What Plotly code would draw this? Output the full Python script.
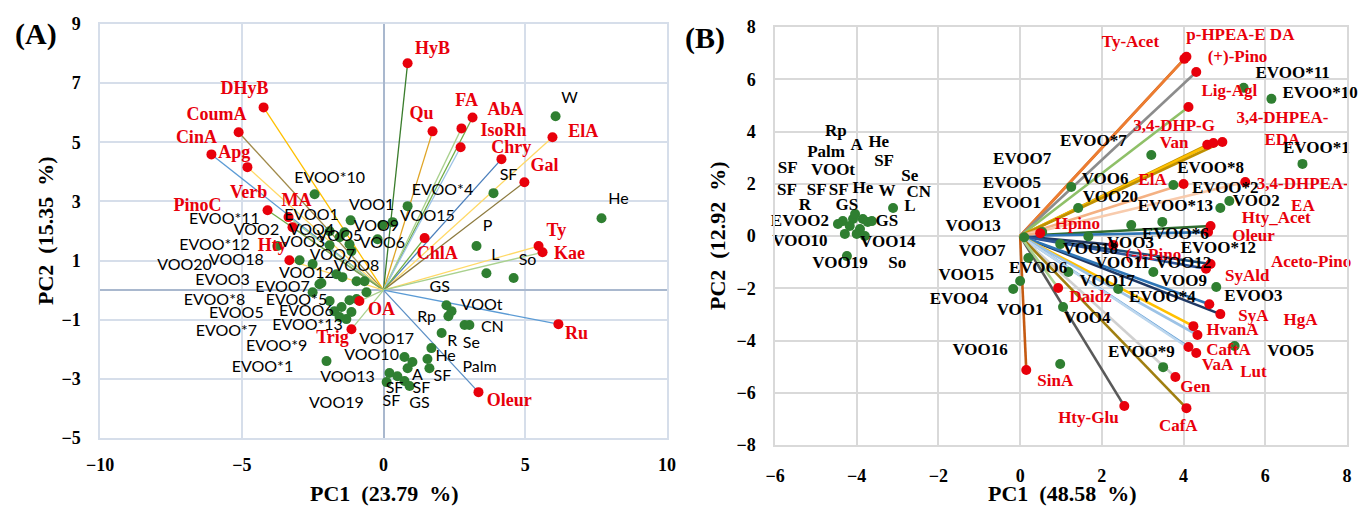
import plotly.graph_objects as go

# ================= Panel A data =================
a_load_names = ["DHyB", "CoumA", "CinA", "Apg", "Verb", "MA", "PinoC", "Hty", "HyB", "Qu", "FA", "AbA",
                "IsoRh", "Chry", "ElA", "Gal", "ChlA", "Ty", "Kae", "Ru", "Oleur", "OA", "Trig"]
a_load_x = [-4.23, -5.11, -6.07, -4.80, -4.09, -3.35, -3.21, -3.32, 0.85, 1.73, 3.14, 2.75,
            2.72, 4.16, 5.96, 4.97, 1.45, 5.47, 5.61, 6.17, 3.35, -0.85, -1.13]
a_load_y = [6.18, 5.34, 4.59, 4.16, 2.70, 2.47, 2.13, 1.01, 7.67, 5.37, 5.84, 5.47,
            4.83, 4.43, 5.17, 3.65, 1.76, 1.49, 1.28, -1.15, -3.45, -0.37, -1.32]
a_load_lab_x = [-4.90, -5.89, -6.60, -5.26, -4.76, -3.07, -6.56, -3.92, 1.73, 1.34, 2.93, 4.30,
                4.23, 4.51, 7.05, 5.68, 1.90, 6.10, 6.56, 6.81, 4.44, -0.07, -1.80]
a_load_lab_y = [6.79, 5.91, 5.14, 4.63, 3.28, 3.01, 2.84, 1.49, 8.14, 5.95, 6.39, 6.08,
                5.37, 4.80, 5.34, 4.19, 1.22, 1.99, 1.22, -1.49, -3.78, -0.68, -1.62]

a_smp_x = [-2.43, -1.16, 0.85, 0.32, -0.04, -0.21, -1.90, -1.55, -3.74, -1.38, -1.20, -1.90, -1.13,
           -2.96, -2.50, -1.66, -0.60, -1.45, -2.19, -2.50, -1.20, -0.95, -1.90, -1.48, -1.73, -1.13,
           -1.31, -1.55, -2.01, -0.95, -0.67, -2.26,
           2.22, 2.40, 2.29, 2.86, 3.03, 2.05, 1.69, 1.55, 1.62, 0.74, 1.02, 0.85, 0.21, 0.49, 0.11,
           0.74, 0.92,
           6.07, 3.88, 7.69, 3.28, 3.63, 4.59]
a_smp_y = [3.24, 2.36, 2.84, 2.30, 2.20, 1.72, 1.99, 1.79, 1.49, 1.96, 1.55, 1.52, 1.32,
           1.01, 0.88, 0.54, -0.07, 0.44, 0.24, -0.07, -0.34, -0.30, -0.37, -0.57, -0.71, -0.74,
           -0.98, -0.91, -2.40, 0.30, 0.30, 0.20,
           -0.51, -0.71, -0.88, -1.18, -1.18, -1.45, -1.96, -2.33, -2.64, -2.26, -2.43, -2.64, -2.80,
           -2.91, -3.11, -3.07, -3.24,
           5.88, 3.28, 2.43, 1.49, 0.57, 0.41]

a_smp_lab = ["EVOO*10", "VOO1", "EVOO*4", "VOO15", "VOO9", "VOO6", "EVOO1", "VOO2", "EVOO*12", "VOO4",
             "VOO5", "VOO3", "VOO7", "VOO18", "VOO20", "VOO12", "VOO8", "EVOO*11", "EVOO3", "EVOO7",
             "EVOO*5", "EVOO*8", "EVOO6", "EVOO5", "EVOO*7", "VOO17", "EVOO*13", "EVOO*9", "EVOO*1",
             "VOO10", "VOO13", "VOO19",
             "GS", "VOOt", "Rp", "CN", "R", "Se", "He", "Palm", "A", "SF", "SF", "SF", "SF", "GS",
             "W", "SF", "He", "P", "L", "So"]
a_smp_lab_x = [-1.90, -0.42, 2.08, 1.55, -0.25, -0.04, -2.54, -4.48, -5.96, -2.54,
               -1.55, -2.86, -1.80, -5.19, -7.02, -2.72, -0.95, -5.61, -5.68, -3.56,
               -3.07, -5.96, -2.72, -5.19, -5.54, 0.11, -2.68, -3.77, -4.27,
               -0.42, -1.27, -1.66,
               1.98, 3.46, 1.52, 3.84, 2.43, 3.10, 2.19, 3.39, 1.20, 2.08, 0.39, 1.34, 0.28, 1.27,
               6.56, 4.41, 8.29, 3.67, 3.95, 5.08]
a_smp_lab_y = [3.75, 2.84, 3.34, 2.47, 2.13, 1.55, 2.50, 1.99, 1.49, 1.99,
               1.79, 1.59, 1.15, 0.98, 0.81, 0.54, 0.78, 2.36, 0.30, 0.07,
               -0.37, -0.37, -0.74, -0.81, -1.42, -1.69, -1.22, -1.93, -2.64,
               -2.23, -2.97, -3.85,
               0.07, -0.54, -0.95, -1.28, -1.76, -1.82, -2.26, -2.64, -2.91, -2.94, -3.34, -3.34, -3.78, -3.85,
               6.45, 3.85, 3.04, 2.13, 1.15, 0.98]

a_x_ticks = [-10, -5, 0, 5, 10]
a_y_ticks = [-5, -3, -1, 1, 3, 5, 7, 9]

# ================= Panel B data =================
b_load_names = ["Ty-Acet", "p-HPEA-EDA", "(+)-Pino", "Lig-Agl", "3,4-DHP-G", "Van", "3,4-DHPEA-EDA",
                "ElA", "3,4-DHPEA-EA", "Hty_Acet", "Oleur", "Hpino", "(-)-Pino", "Aceto-Pino", "SyAld",
                "SyA", "HgA", "HvanA", "Lut", "CaftA", "VaA", "Gen", "CafA", "Hty-Glu", "SinA", "Daidz"]
b_load_text = ["Ty-Acet", "p-HPEA-E DA", "(+)-Pino", "Lig-Agl", "3,4-DHP-G", "Van", "3,4-DHPEA-<br>EDA",
               "ElA", "3,4-DHPEA-<br>EA", "Hty_Acet", "Oleur", "Hpino", "(-)-Pino", "Aceto-Pino", "SyAld",
               "SyA", "HgA", "HvanA", "Lut", "CaftA", "VaA", "Gen", "CafA", "Hty-Glu", "SinA", "Daidz"]
b_load_x = [4.02, 4.07, 4.31, 4.12, 4.58, 4.73, 4.95, 4.00, 5.51, 4.66, 4.60, 0.49, 2.28, 4.66, 4.55,
            4.90, 4.63, 4.24, 4.34, 4.12, 4.31, 3.80, 4.07, 2.55, 0.15, 0.93]
b_load_y = [6.78, 6.86, 6.28, 4.94, 3.49, 3.56, 3.60, 1.99, 2.07, 0.38, 0.15, 0.11, -0.34, -1.07, -1.25,
            -2.99, -2.61, -3.45, -3.79, -4.25, -4.48, -5.40, -6.59, -6.51, -5.13, -1.99]
b_load_lab_x = [2.70, 5.39, 5.32, 5.12, 3.77, 3.77, 6.42, 3.24, 6.92, 6.27, 5.71, 1.40, 3.26, 7.12, 5.56,
                5.71, 6.86, 5.20, 5.71, 5.10, 4.83, 4.29, 3.87, 1.67, 0.86, 1.72]
b_load_lab_y = [7.39, 7.66, 6.82, 5.52, 4.18, 3.52, 4.06, 2.11, 1.53, 0.65, -0.04, 0.42, -0.77, -1.03, -1.57,
                -3.10, -3.26, -3.64, -5.25, -4.41, -4.98, -5.79, -7.32, -7.01, -5.56, -2.38]

b_smp_x = [5.47, 6.15, 6.91, 3.21, 3.75, 5.12, 4.90, 3.48, 2.72, 1.25, 1.42, 1.67, 0.54, 0.10, 0.98,
           0.20, 1.18, 3.26, 2.40, 4.80, 1.05, 0.00, -0.17, 0.98, 3.50, 5.25,
           -4.34, -4.09, -3.85, -4.29, -3.92, -3.73, -4.17, -3.11, -4.24, -4.46, -4.00, -3.63, -4.04, -3.80]
b_smp_y = [5.67, 5.25, 2.76, 3.10, 1.95, 1.34, 1.07, 0.54, 0.42, 1.88, 1.07, -0.02, 0.15, -0.05, -0.31,
           -0.84, -1.38, -1.38, -2.03, -1.95, -2.72, -1.72, -2.03, -4.90, -5.02, -4.21,
           0.57, 0.65, 0.65, 0.08, 0.27, 0.54, 0.38, 1.07, -0.77, 0.46, 0.08, 0.57, 0.84, 0.00]

b_smp_lab = ["Rp", "A", "He", "Palm", "SF", "VOOt", "SF", "Se", "SF", "SF", "SF", "He", "W", "CN", "R",
             "GS", "L", "EVOO2", "GS", "VOO10", "VOO14", "VOO19", "So",
             "EVOO7", "EVOO5", "EVOO1", "VOO13", "VOO7", "VOO15", "EVOO4", "EVOO6", "VOO1", "VOO16",
             "VOO4", "VOO17", "VOO11", "VOO12", "VOO9", "EVOO*4", "EVOO*9", "VOO5", "EVOO3", "EVOO*12",
             "EVOO*6", "VOO3", "VOO18", "VOO6", "VOO20", "EVOO*13", "EVOO*2", "VOO2", "EVOO*8", "EVOO*7",
             "EVOO*11", "EVOO*10", "EVOO*1"]
b_smp_lab_x = [-4.51, -4.00, -3.46, -4.75, -5.69, -4.58, -3.33, -2.70, -5.71, -4.98, -4.44, -3.85, -3.26,
               -2.48, -5.27, -4.24, -2.70, -5.39, -3.26, -5.39, -3.24, -4.41, -3.01,
               0.05, -0.20, -0.20, -1.15, -0.93, -1.32, -1.50, 0.44, 0.00, -0.98,
               1.64, 2.13, 2.50, 4.00, 4.00, 3.48, 2.97, 6.62, 5.71, 4.85,
               3.80, 2.70, 1.72, 2.08, 2.21, 3.80, 5.02, 5.78, 4.66, 1.79,
               6.67, 7.34, 7.25]
b_smp_lab_y = [3.98, 3.45, 3.56, 3.18, 2.57, 2.49, 2.84, 2.26, 1.72, 1.72, 1.72, 1.80, 1.69,
               1.65, 1.15, 1.15, 1.11, 0.54, 0.54, -0.23, -0.27, -1.07, -1.07,
               2.91, 1.99, 1.23, 0.34, -0.61, -1.53, -2.45, -1.26, -2.87, -4.41,
               -3.18, -1.76, -1.07, -1.07, -1.76, -2.38, -4.48, -4.44, -2.34, -0.50,
               0.04, -0.31, -0.54, 2.15, 1.46, 1.11, 1.80, 1.30, 2.57, 3.60,
               6.21, 5.44, 3.33]

b_x_ticks = [-6, -4, -2, 0, 2, 4, 6, 8]
b_y_ticks = [-8, -6, -4, -2, 0, 2, 4, 6, 8]

# ================= styles =================
a_line_colors = ["#FFC000", "#A08A4A", "#5B9BD5", "#FFD966", "#70AD47", "#A9D18E", "#7FA05A", "#FFD966",
                 "#3A7D2C", "#E0A526", "#70AD47", "#A9D18E", "#9DC3E6", "#4A7EBB", "#FFD966", "#8C7A3E",
                 "#70AD47", "#FFD966", "#A9D18E", "#5B9BD5", "#5B8FC5", "#A9D18E", "#A9D18E"]
b_line_colors = ["#C55A11", "#ED7D31", "#8C8C8C", "#8FC068", "#BF9000", "#FFC000", "#BF9000",
                 "#F4B183", "#F8CBAD", "#2F6B2F", "#2E75B6", "#F4B183", "#203864", "#1F4E79", "#2F5597",
                 "#1F3864", "#2E75B6", "#FFC000", "#9DC3E6", "#5B9BD5", "#BDD7EE", "#D0D0D0", "#A07F10",
                 "#595959", "#C55A11", "#A9D18E"]

RED = "#E8000B"
GREEN = "#2F7F31"
SERIF = "Liberation Serif"

# page has an 8px body margin: figure is drawn from (8, 8)
OFF = 8
FW, FH = 1359, 500


def px(x):
    return (x - OFF) / FW


def py(y):
    return 1 - (y - OFF) / FH


fig = go.Figure()

# ---- Panel A ----
for i in range(len(a_load_x)):
    fig.add_trace(go.Scatter(x=[0, a_load_x[i]], y=[0, a_load_y[i]], mode="lines",
                             line=dict(color=a_line_colors[i], width=1.3),
                             xaxis="x", yaxis="y", showlegend=False, hoverinfo="skip"))
fig.add_trace(go.Scatter(x=a_smp_x, y=a_smp_y, mode="markers",
                         marker=dict(color=GREEN, size=10), xaxis="x", yaxis="y", showlegend=False))
fig.add_trace(go.Scatter(x=a_load_x, y=a_load_y, mode="markers", text=a_load_names,
                         marker=dict(color=RED, size=10), xaxis="x", yaxis="y", showlegend=False))
fig.add_trace(go.Scatter(x=a_load_lab_x, y=a_load_lab_y, mode="text", text=a_load_names,
                         textposition="middle center", cliponaxis=False,
                         textfont=dict(family=SERIF, size=18, color=RED, weight="bold"),
                         xaxis="x", yaxis="y", showlegend=False, hoverinfo="skip"))
fig.add_trace(go.Scatter(x=a_smp_lab_x, y=a_smp_lab_y, mode="text", text=a_smp_lab,
                         textposition="middle center", cliponaxis=False,
                         textfont=dict(family="Lato", size=16, color="black"),
                         xaxis="x", yaxis="y", showlegend=False, hoverinfo="skip"))

# ---- Panel B ----
for i in range(len(b_load_x)):
    fig.add_trace(go.Scatter(x=[0, b_load_x[i]], y=[0, b_load_y[i]], mode="lines",
                             line=dict(color=b_line_colors[i], width=2.6),
                             xaxis="x2", yaxis="y2", showlegend=False, hoverinfo="skip"))
fig.add_trace(go.Scatter(x=b_smp_x, y=b_smp_y, mode="markers",
                         marker=dict(color=GREEN, size=10), xaxis="x2", yaxis="y2", showlegend=False))
fig.add_trace(go.Scatter(x=b_load_x, y=b_load_y, mode="markers", text=b_load_names,
                         marker=dict(color=RED, size=10), xaxis="x2", yaxis="y2", showlegend=False))
fig.add_trace(go.Scatter(x=b_load_lab_x, y=b_load_lab_y, mode="text", text=b_load_text,
                         textposition="middle center", cliponaxis=False,
                         textfont=dict(family=SERIF, size=17, color=RED, weight="bold"),
                         xaxis="x2", yaxis="y2", showlegend=False, hoverinfo="skip"))
fig.add_trace(go.Scatter(x=b_smp_lab_x, y=b_smp_lab_y, mode="text", text=b_smp_lab,
                         textposition="middle center", cliponaxis=False,
                         textfont=dict(family=SERIF, size=17, color="black", weight="bold"),
                         xaxis="x2", yaxis="y2", showlegend=False, hoverinfo="skip"))

tickfont = dict(family=SERIF, size=18, color="black", weight="bold")
A_GRID = "#D6DEEA"
B_GRID = "#D9D9D9"

fig.update_layout(
    width=FW, height=FH,
    margin=dict(l=0, r=0, t=0, b=0, autoexpand=False),
    paper_bgcolor="white", plot_bgcolor="white",
    xaxis=dict(domain=[px(100), px(667)], range=[-10, 10], tickvals=a_x_ticks,
               showgrid=True, gridcolor=A_GRID, gridwidth=1.5,
               zeroline=True, zerolinecolor="#A9B8CE", zerolinewidth=1.5,
               showline=True, linecolor=A_GRID, linewidth=1.5, mirror=True, automargin=False,
               tickfont=tickfont, ticklabelstandoff=10, anchor="y"),
    yaxis=dict(domain=[py(438), py(24)], range=[-5, 9], tickvals=a_y_ticks,
               showgrid=True, gridcolor=A_GRID, gridwidth=1.5,
               zeroline=True, zerolinecolor="#A9B8CE", zerolinewidth=1.5,
               showline=True, linecolor=A_GRID, linewidth=1.5, mirror=True, automargin=False,
               tickfont=tickfont, ticklabelstandoff=14, anchor="x"),
    xaxis2=dict(domain=[px(775), px(1347)], range=[-6, 8], tickvals=b_x_ticks,
                showgrid=True, gridcolor=B_GRID, gridwidth=1.5,
                zeroline=True, zerolinecolor=B_GRID, zerolinewidth=1.5,
                showline=True, linecolor=B_GRID, linewidth=1.5, mirror=True, automargin=False,
                tickfont=tickfont, ticklabelstandoff=14, anchor="y2"),
    yaxis2=dict(domain=[py(445), py(27)], range=[-8, 8], tickvals=b_y_ticks,
                showgrid=True, gridcolor=B_GRID, gridwidth=1.5,
                zeroline=True, zerolinecolor=B_GRID, zerolinewidth=1.5,
                showline=True, linecolor=B_GRID, linewidth=1.5, mirror=True, automargin=False,
                tickfont=tickfont, ticklabelstandoff=14, anchor="x2"),
)

title_font = dict(family=SERIF, size=22, color="black", weight="bold")
panel_font = dict(family=SERIF, size=30, color="black", weight="bold")
fig.add_annotation(text="PC1\u2002(23.79\u2002%)", x=px(384), y=py(493), xref="paper", yref="paper",
                   showarrow=False, font=title_font, xanchor="center", yanchor="middle")
fig.add_annotation(text="PC2\u2002(15.35\u2002%)", x=px(46), y=py(231), xref="paper", yref="paper",
                   showarrow=False, font=title_font, textangle=-90, xanchor="center", yanchor="middle")
fig.add_annotation(text="PC1\u2002(48.58\u2002%)", x=px(1062), y=py(493), xref="paper", yref="paper",
                   showarrow=False, font=title_font, xanchor="center", yanchor="middle")
fig.add_annotation(text="PC2\u2002(12.92\u2002%)", x=px(718), y=py(236), xref="paper", yref="paper",
                   showarrow=False, font=title_font, textangle=-90, xanchor="center", yanchor="middle")
fig.add_annotation(text="(A)", x=px(36), y=py(34), xref="paper", yref="paper",
                   showarrow=False, font=panel_font, xanchor="center", yanchor="middle")
fig.add_annotation(text="(B)", x=px(705), y=py(38), xref="paper", yref="paper",
                   showarrow=False, font=panel_font, xanchor="center", yanchor="middle")

fig.write_html("out.html")
